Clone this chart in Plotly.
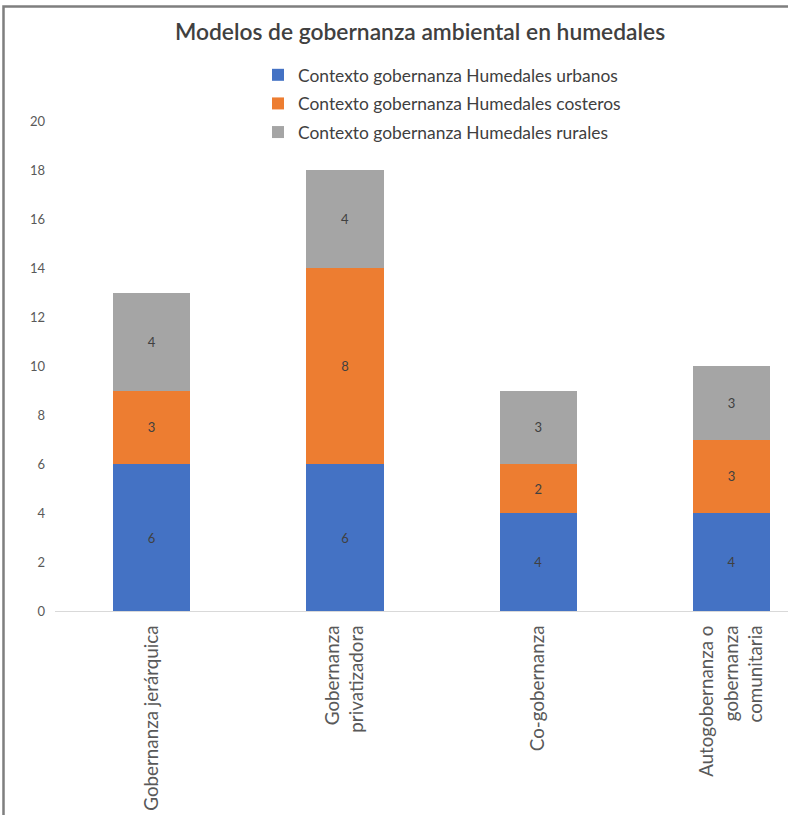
import plotly.graph_objects as go

categories = ["Gobernanza jerárquica", "Gobernanza<br>privatizadora", "Co-gobernanza",
              "Autogobernanza o<br>gobernanza<br>comunitaria"]
urbanos = [6, 6, 4, 4]
costeros = [3, 8, 2, 3]
rurales = [4, 4, 3, 3]
series_names = ["Contexto gobernanza Humedales urbanos",
                "Contexto gobernanza Humedales costeros",
                "Contexto gobernanza Humedales rurales"]
colors = ["#4472C4", "#ED7D31", "#A5A5A5"]
y_ticks = list(range(0, 21, 2))

FONT = "Lato"
W, H = 788, 815
L, T, B = 55, 121, 204
PW, PH = W - L, H - T - B


def px_x(x):
    return (x - L) / PW


def px_y(y):
    return (H - B - y) / PH


fig = go.Figure()
for i, (name, vals) in enumerate(zip(series_names, [urbanos, costeros, rurales])):
    fig.add_trace(go.Bar(
        x=list(range(len(categories))), y=vals, name=name,
        marker=dict(color=colors[i], line=dict(width=0)),
        text=[str(v) for v in vals], textposition="inside",
        insidetextanchor="middle",
        textfont=dict(family=FONT, size=13, color="#404040"),
        legendgroup=f"g{i}",
    ))

fig.update_layout(
    width=W, height=H,
    margin=dict(l=L, r=0, t=T, b=B, autoexpand=False),
    barmode="stack", bargap=0.6,
    plot_bgcolor="white", paper_bgcolor="white",
    font=dict(family=FONT, color="#595959"),
    title=dict(text="Modelos de gobernanza ambiental en humedales",
               x=420 / W, xanchor="center", xref="container",
               y=1 - 32 / H, yanchor="middle", yref="container",
               font=dict(family=FONT, size=22.8, color="#404040", weight=600)),
    legend=dict(orientation="v", xref="paper", yref="paper",
                x=px_x(258), xanchor="left", y=px_y(57), yanchor="top",
                font=dict(family=FONT, size=17.4, color="#404040"),
                traceorder="grouped", tracegroupgap=3, itemwidth=30,
                bgcolor="rgba(0,0,0,0)"),
    xaxis=dict(tickmode="array", tickvals=list(range(len(categories))),
               ticktext=categories, tickangle=-90,
               range=[-0.5, 3.5 - 40 / 193], showgrid=False, zeroline=False,
               showline=True, linecolor="#D9D9D9", linewidth=1,
               ticks="", automargin=False, ticklabelstandoff=6,
               tickfont=dict(family=FONT, size=18.8, color="#595959")),
    yaxis=dict(range=[0, 20], tickvals=y_ticks, showgrid=False, zeroline=False,
               showline=False, ticks="", ticklabelstandoff=9, automargin=False,
               tickfont=dict(family=FONT, size=13, color="#595959")),
    shapes=[
        dict(type="rect", xref="paper", yref="paper", layer="above",
             x0=px_x(3.5), x1=px_x(800), y0=px_y(6.5), y1=px_y(830),
             line=dict(color="#7F7F7F", width=2.5), fillcolor="rgba(0,0,0,0)"),
    ],
)

fig.write_html(
    "out.html",
    config={"displayModeBar": False},
    post_script="document.body.style.margin='0';"
                "document.body.style.overflow='hidden';"
                "document.documentElement.style.overflow='hidden';",
)
